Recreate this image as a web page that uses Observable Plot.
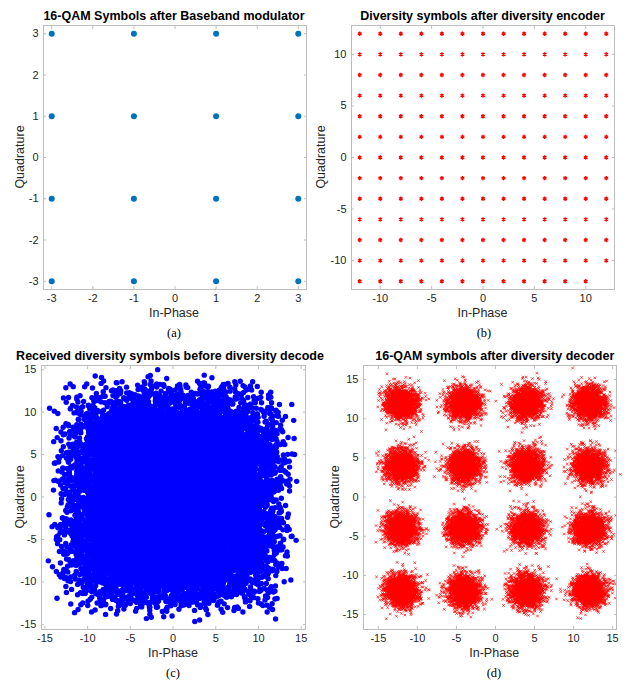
<!DOCTYPE html>
<html><head><meta charset="utf-8">
<script src="https://cdn.jsdelivr.net/npm/d3@7"></script>
<script src="https://cdn.jsdelivr.net/npm/@observablehq/plot@0.6"></script>
<style>
body{margin:0;background:#fff;}
#fig{position:relative;width:628px;height:680px;overflow:hidden;background:#fff;font-family:"Liberation Sans",Arial,Helvetica,sans-serif;}
.p{position:absolute;overflow:hidden;}
.t{position:absolute;transform:translate(-50%,-50%);white-space:nowrap;color:#000;line-height:1;}
.ttl{font-weight:bold;font-size:12.5px;}
.lab{font-size:12.5px;color:#262626;}
.cap{font-family:"Liberation Serif","Times New Roman",serif;font-size:12.5px;}
</style></head><body><div id="fig"></div>
<script>
// ---------------- data ----------------
// (a) 16-QAM constellation levels (I and Q)
const qamLevels = [-3, -1, 1, 3];
// (b) diversity-encoded symbol levels (I and Q); one grid point absent in the picture
const divLevels = [-12, -10, -8, -6, -4, -2, 0, 2, 4, 6, 8, 10, 12];
const divMissing = [[12, -12]];
// (c) relative frequency of each received level (edges thinner, read from the rounded blob) and noise spread
const divLevelWeights = [1, 2, 4, 5, 6, 6, 6, 6, 6, 5, 4, 2, 1];
const noiseSigmaC = 0.95;
const nReceived = 16000;
// (d) decoded 16-QAM cluster centres (I and Q) and spread of each cluster
const decCenters = [-12, -4, 4, 12];
const noiseSigmaD = 1.05;
const nPerCluster = 1700;
// tick labels
const ticksA = [-3, -2, -1, 0, 1, 2, 3];
const ticksB = [-10, -5, 0, 5, 10];
const ticksC = [-15, -10, -5, 0, 5, 10, 15];
const ticksD = [-15, -10, -5, 0, 5, 10, 15];
// titles / labels
const titles = ["16-QAM Symbols after Baseband modulator", "Diversity symbols after diversity encoder",
  "Received diversity symbols before diversity decode", "16-QAM symbols after diversity decoder"];
const xLabel = "In-Phase", yLabel = "Quadrature";
const captions = ["(a)", "(b)", "(c)", "(d)"];

// ---------------- build tables ----------------
const dataA = [];
for (const q of qamLevels) for (const i of qamLevels) dataA.push({x: i, y: q});

const dataB = [];
for (const q of divLevels) for (const i of divLevels) {
  if (divMissing.some(([mx, my]) => mx === i && my === q)) continue;
  dataB.push({x: i, y: q});
}

// reproducible (seeded) simulated noise clouds around the read-off centres
const lcg = d3.randomLcg(0.1234);
const normal = d3.randomNormal.source(lcg);
const cum = d3.cumsum(divLevelWeights), tot = cum[cum.length - 1];
const pickLevel = () => { const u = lcg() * tot; return divLevels[cum.findIndex(c => c > u)]; };
const gC = normal(0, noiseSigmaC);
const dataC = [];
for (let k = 0; k < nReceived; k++) dataC.push({x: pickLevel() + gC(), y: pickLevel() + gC()});

const gD = normal(0, noiseSigmaD);
const dataD = [];
for (let k = 0; k < nPerCluster; k++)
  for (const cy of decCenters) for (const cx of decCenters) dataD.push({x: cx + gD(), y: cy + gD()});

// ---------------- drawing ----------------
const fig = document.getElementById("fig");
const AX = "#bdbdbd";
function panel({w, ml, mr, mt = 25, mb = 51, xd, yd, ticks, marks}) {
  const fmt = d => String(d);
  const blank = () => "";
  return Plot.plot({
    width: w, height: 340, marginLeft: ml, marginRight: mr, marginTop: mt, marginBottom: mb,
    x: {domain: xd, label: null}, y: {domain: yd, label: null},
    style: {fontFamily: '"Liberation Sans", Arial, sans-serif', fontSize: "11px", color: "#262626", background: "transparent", overflow: "visible"},
    marks: [
      ...marks,
      Plot.frame({stroke: AX}),
      Plot.axisX(ticks, {anchor: "bottom", tickSize: -3, tickPadding: 8, stroke: AX, tickFormat: fmt, label: null}),
      Plot.axisX(ticks, {anchor: "top", tickSize: -3, stroke: AX, tickFormat: blank, label: null}),
      Plot.axisY(ticks, {anchor: "left", tickSize: -3, tickPadding: 8, stroke: AX, tickFormat: fmt, label: null}),
      Plot.axisY(ticks, {anchor: "right", tickSize: -3, stroke: AX, tickFormat: blank, label: null})
    ]
  });
}
function place(node, left, top, w, bg) {
  const d = document.createElement("div");
  d.className = "p";
  d.style.left = left + "px"; d.style.top = top + "px"; d.style.width = w + "px"; d.style.height = "340px";
  if (bg) d.style.background = bg;
  d.appendChild(node);
  fig.appendChild(d);
  return d;
}
function text(str, cx, cy, cls, rot) {
  const s = document.createElement("div");
  s.className = "t " + cls;
  s.textContent = str;
  s.style.left = cx + "px"; s.style.top = cy + "px";
  if (rot) s.style.transform = "translate(-50%,-50%) rotate(-90deg)";
  fig.appendChild(s);
}

const pA = panel({w: 314, ml: 43, mr: 8, xd: [-3.2, 3.2], yd: [-3.2, 3.2], ticks: ticksA,
  marks: [Plot.dot(dataA, {x: "x", y: "y", r: 3, fill: "#0072BD"})]});
const pB = panel({w: 314, ml: 37, mr: 14, xd: [-12.8, 12.8], yd: [-12.8, 12.8], ticks: ticksB,
  marks: [Plot.dot(dataB, {x: "x", y: "y", r: 2, symbol: "asterisk", stroke: "#ff0000", strokeWidth: 1.3})]});
const pC = panel({w: 321, ml: 41, mr: 16, xd: [-15.4, 15.5], yd: [-15.6, 15.5], ticks: ticksC,
  marks: [Plot.dot(dataC, {x: "x", y: "y", r: 2.7, fill: "#0000ff"})]});
const pD = panel({w: 307, ml: 42, mr: 12, xd: [-16.9, 15.5], yd: [-16.9, 16.8], ticks: ticksD,
  marks: [Plot.dot(dataD, {x: "x", y: "y", r: 1.3, symbol: "times", stroke: "#ff0000", strokeWidth: 0.7})]});

place(pA, 0, 0, 314);
place(pB, 314, 0, 314);
place(pC, 0, 340, 321);
place(pD, 321, 340, 307, "#fff");

// texts (page coordinates)
text(titles[0], 174, 16, "ttl");
text(xLabel, 174, 313, "lab");
text(yLabel, 20, 157, "lab", true);
text(captions[0], 174, 333, "cap");

text(titles[1], 482.5, 16, "ttl");
text(xLabel, 482.5, 313, "lab");
text(yLabel, 321, 157, "lab", true);
text(captions[1], 484, 333, "cap");

text(titles[2], 170, 356, "ttl");
text(xLabel, 173, 653, "lab");
text(yLabel, 20, 497, "lab", true);
text(captions[2], 173, 673, "cap");

text(titles[3], 494.8, 356, "ttl");
text(xLabel, 494.3, 653, "lab");
text(yLabel, 335, 497, "lab", true);
text(captions[3], 494, 673, "cap");
</script></body></html>
